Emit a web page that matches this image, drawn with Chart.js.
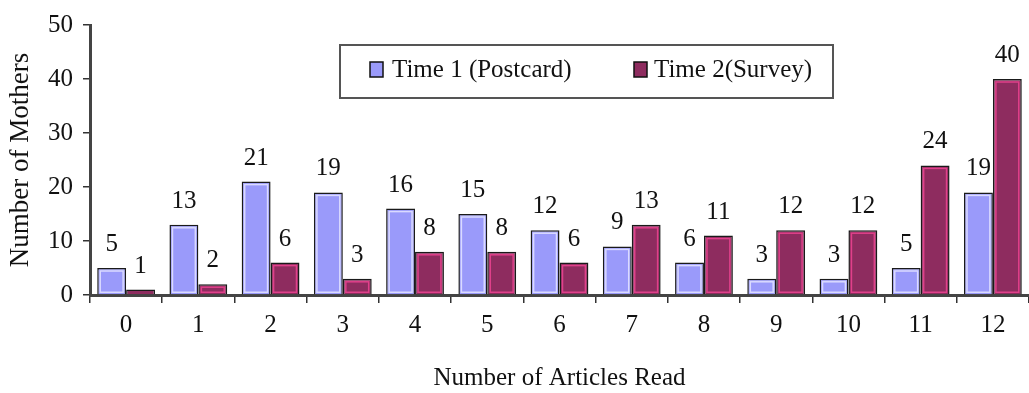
<!DOCTYPE html>
<html>
<head>
<meta charset="utf-8">
<script src="https://cdn.jsdelivr.net/npm/chart.js@4.4.1/dist/chart.umd.min.js"></script>
<style>
  html, body { margin: 0; padding: 0; background: #ffffff; }
  #wrap { width: 1029px; height: 393px; position: relative; }
</style>
</head>
<body>
<div id="wrap"><canvas id="c" width="1029" height="393"></canvas></div>
<script>
const categories = ['0','1','2','3','4','5','6','7','8','9','10','11','12'];
const time1 = [5, 13, 21, 19, 16, 15, 12, 9, 6, 3, 3, 5, 19];
const time2 = [1, 2, 6, 3, 8, 8, 6, 13, 11, 12, 12, 24, 40];
const seriesNames = ['Time 1 (Postcard)', 'Time 2(Survey)'];
const yTicks = [0, 10, 20, 30, 40, 50];
const xTitle = 'Number of Articles Read';
const yTitle = 'Number of Mothers';

const FONT = '"Liberation Serif", "DejaVu Serif", serif';
const fills = ['#9a9afa', '#8e2c5f'];
const highlights = ['#dadaff', '#e0408a'];

const barDecor = {
  id: 'barDecor',
  afterDatasetsDraw(chart) {
    const ctx = chart.ctx;
    ctx.save();
    chart.data.datasets.forEach((ds, di) => {
      const meta = chart.getDatasetMeta(di);
      meta.data.forEach((bar, i) => {
        const p = bar.getProps(['x', 'y', 'base', 'width'], true);
        const l = p.x - p.width / 2, r = p.x + p.width / 2;
        const top = p.y, bot = p.base;
        if (bot - top > 6) {
          ctx.strokeStyle = highlights[di];
          ctx.lineWidth = 1.5;
          ctx.strokeRect(l + 3, top + 3, (r - l) - 6, (bot - top) - 5);
        }
        ctx.fillStyle = '#111';
        ctx.font = '25px ' + FONT;
        ctx.textAlign = 'center';
        ctx.textBaseline = 'alphabetic';
        ctx.fillText(String(ds.data[i]), p.x, top - 17);
      });
    });
    ctx.restore();
  }
};

const boxLegend = {
  id: 'boxLegend',
  afterDraw(chart) {
    const ctx = chart.ctx;
    ctx.save();
    ctx.fillStyle = '#ffffff';
    ctx.fillRect(340, 45, 493, 53);
    ctx.strokeStyle = '#555';
    ctx.lineWidth = 2;
    ctx.strokeRect(340, 45, 493, 53);
    const items = [
      { x: 370, tx: 392 },
      { x: 634, tx: 654 }
    ];
    ctx.font = '25px ' + FONT;
    ctx.textBaseline = 'middle';
    ctx.textAlign = 'left';
    items.forEach((it, i) => {
      ctx.fillStyle = fills[i];
      ctx.fillRect(it.x, 62, 13, 15);
      ctx.strokeStyle = '#111';
      ctx.lineWidth = 1.5;
      ctx.strokeRect(it.x, 62, 13, 15);
      ctx.fillStyle = '#111';
      ctx.fillText(seriesNames[i], it.tx, 70);
    });
    ctx.restore();
  }
};

new Chart(document.getElementById('c'), {
  type: 'bar',
  data: {
    labels: categories,
    datasets: [
      { label: seriesNames[0], data: time1, backgroundColor: fills[0], borderColor: '#1a1a1a', borderWidth: 1.5 },
      { label: seriesNames[1], data: time2, backgroundColor: fills[1], borderColor: '#1a1a1a', borderWidth: 1.5 }
    ]
  },
  options: {
    responsive: false,
    animation: false,
    devicePixelRatio: 1,
    layout: { padding: { top: 20, right: -5, left: 0, bottom: 0 } },
    datasets: { bar: { categoryPercentage: 0.8, barPercentage: 1.0 } },
    plugins: {
      legend: { display: false },
      tooltip: { enabled: false }
    },
    scales: {
      x: {
        offset: true,
        grid: { display: true, offset: true, drawOnChartArea: false, drawTicks: true, tickLength: 8, color: '#333', lineWidth: 1.5 },
        border: { display: true, color: '#444', width: 3 },
        ticks: { color: '#111', font: { family: FONT, size: 25 }, padding: 7, maxRotation: 0 },
        title: { display: true, text: xTitle, color: '#111', font: { family: FONT, size: 25 }, padding: { top: 14, bottom: 0 } },
        afterFit(s) { s.height = 98; }
      },
      y: {
        min: 0, max: 50,
        afterBuildTicks(s) { s.ticks = yTicks.map(v => ({ value: v })); },
        grid: { display: true, drawOnChartArea: false, drawTicks: true, tickLength: 7, color: '#333', lineWidth: 1.5 },
        border: { display: true, color: '#444', width: 3 },
        ticks: { color: '#111', font: { family: FONT, size: 25 }, padding: 10 },
        title: { display: true, text: yTitle, color: '#111', font: { family: FONT, size: 27 }, padding: { top: 5, bottom: 0 } },
        afterFit(s) { s.width = 90; }
      }
    }
  },
  plugins: [barDecor, boxLegend]
});
</script>
</body>
</html>
